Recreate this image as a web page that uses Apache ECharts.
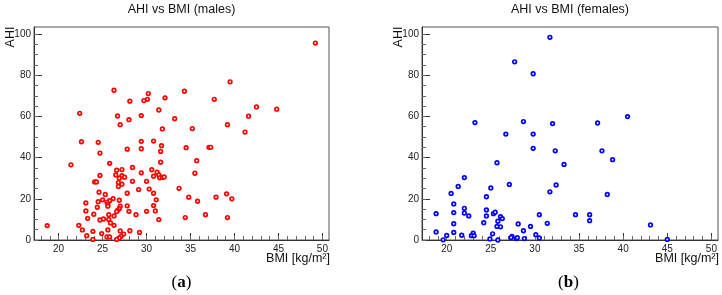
<!DOCTYPE html>
<html>
<head>
<meta charset="utf-8">
<script src="https://cdn.jsdelivr.net/npm/echarts@6/dist/echarts.min.js"></script>
<style>
  html, body { margin: 0; padding: 0; background: #fff; }
  #main { width: 722px; height: 295px; }
</style>
</head>
<body>
<div id="main"></div>
<script>
// values
const maleBmi = [49.2, 39.5, 26.3, 34.3, 30.2, 30.1, 29.7, 28.1, 32.1, 37.7, 42.5, 44.8, 31.4, 22.4, 26.7, 29.4, 41.6, 28.0, 33.2, 27.0,
  39.2, 31.8, 35.2, 41.2, 22.6, 24.5, 29.4, 30.8, 31.7, 34.5, 37.1, 37.3, 27.8, 29.4, 31.6, 24.7, 31.6, 35.7, 25.8, 21.4,
  28.4, 26.6, 27.2, 30.6, 29.4, 31.2, 35.5, 24.7, 26.5, 27.2, 30.8, 31.4, 31.5, 31.8, 32.0, 26.9, 27.5, 30.0, 28.4, 24.1,
  24.3, 26.8, 27.2, 26.8, 33.7, 29.1, 30.3, 24.6, 27.8, 30.8, 25.3, 39.1, 34.8, 37.9, 39.7, 26.2, 26.9, 31.1, 25.0, 25.8,
  24.5, 35.8, 23.1, 25.5, 25.6, 27.0, 27.8, 30.8, 24.4, 25.6, 26.9, 26.7, 26.6, 23.1, 28.0, 30.0, 31.0, 24.0, 25.7, 28.8,
  36.7, 26.3, 34.4, 39.2, 23.3, 24.7, 25.1, 25.7, 31.4, 25.9, 26.3, 18.7, 22.3, 22.7, 23.9, 25.6, 27.0, 28.1, 29.2, 24.9,
  27.4, 23.2, 25.5, 25.8, 27.1, 26.9, 23.9, 26.6];
const maleAhi = [95.6, 76.8, 72.7, 72.2, 71.1, 68.3, 67.7, 67.4, 69.0, 68.3, 64.6, 63.5, 63.1, 61.5, 60.2, 60.4, 60.1, 58.4, 58.9, 56.0,
  56.0, 53.9, 54.1, 52.4, 47.7, 47.4, 47.9, 48.0, 45.8, 44.8, 45.0, 45.0, 44.1, 44.3, 43.0, 42.2, 37.8, 38.5, 37.2, 36.5,
  35.2, 33.9, 34.2, 34.1, 32.6, 32.9, 32.4, 31.3, 31.6, 31.2, 31.0, 31.6, 30.2, 30.4, 30.6, 30.0, 30.5, 28.5, 28.5, 28.2,
  28.2, 27.9, 27.1, 26.0, 25.1, 24.5, 24.7, 23.2, 22.7, 22.7, 22.1, 22.4, 20.8, 20.8, 20.0, 20.1, 19.3, 19.5, 19.5, 19.1,
  18.6, 18.8, 18.0, 18.3, 17.3, 16.4, 16.6, 16.7, 15.9, 16.4, 15.2, 14.4, 13.8, 14.1, 13.9, 13.9, 14.1, 12.5, 12.3, 12.3,
  12.3, 11.7, 10.9, 10.9, 10.5, 9.7, 10.2, 10.0, 9.9, 8.3, 7.1, 7.0, 7.1, 4.9, 4.2, 4.9, 4.4, 4.5, 3.7, 3.1,
  2.9, 2.1, 1.5, 1.5, 1.8, 1.0, 0.3, 0.3];

const femaleBmi = [31.7, 27.7, 29.8, 23.2, 28.7, 32.0, 37.1, 40.5, 26.7, 29.8, 29.8, 32.3, 37.6, 38.8, 25.7, 33.3, 22.0, 27.1, 21.3, 32.4,
  25.0, 31.7, 20.5, 38.2, 24.5, 20.8, 22.0, 24.5, 18.8, 20.8, 22.0, 25.3, 25.5, 22.5, 24.5, 30.5, 34.6, 36.2, 26.1, 26.3,
  25.8, 36.2, 24.2, 20.8, 28.1, 31.4, 43.1, 25.7, 26.1, 29.5, 28.7, 18.8, 20.8, 23.0, 25.2, 30.1, 21.7, 20.0, 22.8, 23.1,
  27.4, 27.3, 27.9, 28.0, 28.8, 30.5, 19.6, 24.9, 25.8, 45.0];
const femaleAhi = [98.4, 86.5, 80.7, 57.0, 57.5, 56.5, 56.8, 59.9, 51.4, 51.4, 44.5, 43.3, 43.3, 39.0, 37.5, 36.7, 30.3, 27.0, 26.0, 26.7,
  25.3, 23.4, 22.6, 22.1, 21.0, 17.5, 15.4, 14.6, 12.8, 13.3, 13.1, 12.8, 13.5, 11.7, 11.7, 12.3, 12.3, 12.3, 11.3, 10.4,
  9.1, 9.4, 8.4, 7.9, 7.8, 8.1, 7.3, 6.6, 6.4, 6.6, 4.5, 3.9, 3.7, 3.3, 3.0, 2.6, 2.3, 2.2, 2.1, 2.1,
  1.8, 1.2, 0.7, 1.1, 0.7, 1.0, 0.1, 0.5, 0.0, 0.3];

const xMajor = [20, 25, 30, 35, 40, 45, 50];
const yMajor = [0, 20, 40, 60, 80, 100];
const titles = ['AHI vs BMI (males)', 'AHI vs BMI (females)'];
const panelTags = ['a', 'b'];

const xMinor = [];
for (let v = 18; v <= 50; v++) xMinor.push(v);
const yMinor = [];
for (let v = 0; v <= 100; v += 5) yMinor.push(v);

const zip = (a, b) => a.map((v, i) => [v, b[i]]);

const X_MIN = 17.2, X_MAX = 50.75, Y_MIN = 0, Y_MAX = 103.4;
const lineCol = '#333';
const grids = [
  { left: 34, top: 27, width: 295, height: 213 },
  { left: 422, top: 27, width: 296, height: 213 }
];

const myChart = echarts.init(document.getElementById('main'));

const xAxes = [], yAxes = [];
// major axes first (index 0,1), minor tick axes after (index 2,3)
[0, 1].forEach(g => {
  xAxes.push({
    gridIndex: g, type: 'value', min: X_MIN, max: X_MAX, position: 'bottom',
    axisLine: { lineStyle: { color: lineCol, width: 1 } },
    axisTick: { inside: true, length: 7, customValues: xMajor, lineStyle: { color: lineCol } },
    axisLabel: { customValues: xMajor, fontSize: 10, color: '#222', margin: 4, fontFamily: 'Liberation Sans' },
    splitLine: { show: false }
  });
  yAxes.push({
    gridIndex: g, type: 'value', min: Y_MIN, max: Y_MAX, position: 'left',
    axisLine: { show: true, lineStyle: { color: lineCol, width: 1 } },
    axisTick: { inside: true, length: 8, customValues: yMajor, lineStyle: { color: lineCol } },
    axisLabel: { customValues: yMajor, fontSize: 10, color: '#222', margin: 3, fontFamily: 'Liberation Sans' },
    splitLine: { show: false }
  });
});
[0, 1].forEach(g => {
  xAxes.push({
    gridIndex: g, type: 'value', min: X_MIN, max: X_MAX, position: 'bottom',
    axisLine: { show: false },
    axisTick: { inside: true, length: 4, customValues: xMinor, lineStyle: { color: '#666' } },
    axisLabel: { show: false },
    splitLine: { show: false }
  });
  yAxes.push({
    gridIndex: g, type: 'value', min: Y_MIN, max: Y_MAX, position: 'left',
    axisLine: { show: false },
    axisTick: { inside: true, length: 4, customValues: yMinor, lineStyle: { color: '#666' } },
    axisLabel: { show: false },
    splitLine: { show: false }
  });
});

const graphics = [];
titles.forEach((t, g) => {
  const gr = grids[g];
  graphics.push({
    type: 'text', x: gr.left + gr.width / 2, y: 10,
    style: { text: t, font: '12.5px "Liberation Sans"', fill: '#111', align: 'center', verticalAlign: 'middle' }
  });
  graphics.push({
    type: 'text', x: gr.left - 23, y: 37, rotation: Math.PI / 2,
    style: { text: 'AHI', font: '12.5px "Liberation Sans"', fill: '#111', align: 'center', verticalAlign: 'middle' }
  });
  graphics.push({
    type: 'text', x: gr.left + gr.width + 1, y: 259,
    style: { text: 'BMI [kg/m²]', font: '12.5px "Liberation Sans"', fill: '#111', align: 'right', verticalAlign: 'middle' }
  });
  graphics.push({
    type: 'text', x: [181.5, 568.5][g], y: 283,
    style: {
      text: '({b|' + panelTags[g] + '})', font: '17px "Liberation Serif"', fill: '#000',
      align: 'center', verticalAlign: 'middle',
      rich: { b: { fontWeight: 'bold', fontSize: 17, fontFamily: 'Liberation Serif' } }
    }
  });
});

myChart.setOption({
  animation: false,
  backgroundColor: '#fff',
  grid: grids.map(g => Object.assign({ show: true, borderColor: '#555', borderWidth: 1, backgroundColor: 'transparent' }, g)),
  xAxis: xAxes,
  yAxis: yAxes,
  graphic: graphics,
  series: [
    {
      name: 'males', type: 'scatter', xAxisIndex: 0, yAxisIndex: 0,
      symbol: 'circle', symbolSize: 3.6,
      itemStyle: { color: '#fff', borderColor: '#ff0000', borderWidth: 1.7, opacity: 1 },
      data: zip(maleBmi, maleAhi)
    },
    {
      name: 'females', type: 'scatter', xAxisIndex: 1, yAxisIndex: 1,
      symbol: 'circle', symbolSize: 3.6,
      itemStyle: { color: '#fff', borderColor: '#0000ff', borderWidth: 1.7, opacity: 1 },
      data: zip(femaleBmi, femaleAhi)
    }
  ]
});
window.onresize = function () {
  myChart.resize();
};
</script>
</body>
</html>
